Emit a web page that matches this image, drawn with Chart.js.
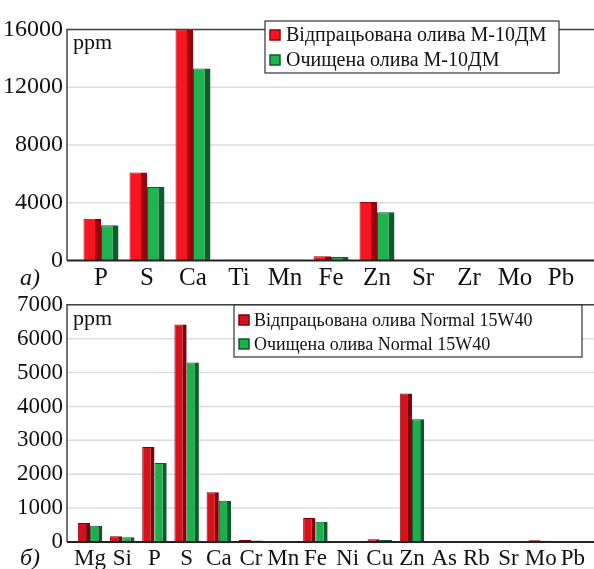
<!DOCTYPE html>
<html>
<head>
<meta charset="utf-8">
<script src="https://cdn.jsdelivr.net/npm/chart.js@4.4.1/dist/chart.umd.min.js"></script>
<style>
    html, body { margin: 0; padding: 0; background: #fff; overflow: hidden; }
    .box { position: absolute; left: 0; width: 594px; height: 290px; }
</style>
</head>
<body>
<div class="box" style="top:0"><canvas id="chartTop"></canvas></div>
<div class="box" style="top:280px"><canvas id="chartBottom"></canvas></div>
<script>
// a) М-10ДМ
const topElements = ["P", "S", "Ca", "Ti", "Mn", "Fe", "Zn", "Sr", "Zr", "Mo", "Pb"];
const topUsed = [2900, 6100, 16000, 30, 20, 300, 4050, 20, 20, 20, 40];
const topCleaned = [2450, 5100, 13300, 25, 15, 250, 3350, 15, 15, 15, 30];
const topTicks = [0, 4000, 8000, 12000, 16000];

// б) Normal 15W40
const bottomElements = ["Mg", "Si", "P", "S", "Ca", "Cr", "Mn", "Fe", "Ni", "Cu", "Zn", "As", "Rb", "Sr", "Mo", "Pb"];
const bottomUsed = [560, 170, 2800, 6420, 1470, 60, 20, 710, 15, 80, 4380, 10, 10, 10, 50, 30];
const bottomCleaned = [480, 140, 2330, 5300, 1220, 45, 15, 600, 10, 60, 3620, 8, 8, 8, 40, 25];
const bottomTicks = [0, 1000, 2000, 3000, 4000, 5000, 6000, 7000];

const serif = "'Liberation Serif', 'DejaVu Serif', serif";

// рамка, сітка, підписи і легенда
const panelPlugin = {
    id: "panel",
    beforeDatasetsDraw(chart, args, o) {
        const { ctx, chartArea } = chart;
        const y = chart.scales.y;
        ctx.save();
        ctx.strokeStyle = "#dcdcdc";
        ctx.lineWidth = 1.5;
        y.ticks.forEach((t) => {
            if (t.value === 0) return;
            const py = y.getPixelForValue(t.value);
            ctx.beginPath();
            ctx.moveTo(o.left, py);
            ctx.lineTo(o.right, py);
            ctx.stroke();
        });
        ctx.strokeStyle = "#444";
        ctx.lineWidth = 1.5;
        ctx.beginPath();
        ctx.moveTo(o.left, chartArea.bottom);
        ctx.lineTo(o.left, chartArea.top);
        ctx.lineTo(o.right, chartArea.top);
        ctx.stroke();
        ctx.restore();
    },
    afterDatasetsDraw(chart, args, o) {
        const { ctx, chartArea } = chart;
        ctx.save();
        ctx.strokeStyle = "#222";
        ctx.lineWidth = 2;
        ctx.beginPath();
        ctx.moveTo(o.left, chartArea.bottom);
        ctx.lineTo(o.right, chartArea.bottom);
        ctx.stroke();

        ctx.fillStyle = "#111";
        ctx.textBaseline = "middle";
        ctx.textAlign = "left";
        ctx.font = "22px " + serif;
        ctx.fillText("ppm", o.left + 6, chartArea.top + 14);

        ctx.font = "italic 24px " + serif;
        ctx.textBaseline = "alphabetic";
        ctx.fillText(o.letter, 20, o.letterY);

        // легенда
        const lg = o.legend;
        ctx.fillStyle = "#fff";
        ctx.fillRect(lg.x, lg.y, lg.w, lg.h);
        ctx.strokeStyle = "#333";
        ctx.lineWidth = 1.2;
        ctx.strokeRect(lg.x, lg.y, lg.w, lg.h);
        ctx.font = lg.size + "px " + serif;
        ctx.textBaseline = "middle";
        chart.data.datasets.forEach((ds, i) => {
            const cy = lg.y + lg.row0 + i * lg.rowGap;
            ctx.fillStyle = ds.backgroundColor;
            ctx.fillRect(lg.x + 5, cy - 5, 10, 10);
            ctx.strokeStyle = ds.borderColor;
            ctx.lineWidth = 1.5;
            ctx.strokeRect(lg.x + 5, cy - 5, 10, 10);
            ctx.fillStyle = "#111";
            ctx.fillText(ds.label, lg.x + lg.textX, cy + 1);
        });
        ctx.restore();
    },
};

const makeChart = (id, cfg) => {
    return new Chart(document.getElementById(id), {
        type: "bar",
        data: {
            labels: cfg.labels,
            datasets: [{
                label: cfg.names[0],
                data: cfg.used,
                backgroundColor: cfg.red,
                borderColor: cfg.redDark,
                borderWidth: { top: 1, left: 1, right: cfg.side, bottom: 0 },
                borderSkipped: false,
            }, {
                label: cfg.names[1],
                data: cfg.cleaned,
                backgroundColor: cfg.green,
                borderColor: cfg.greenDark,
                borderWidth: { top: 1, left: 1, right: cfg.side, bottom: 0 },
                borderSkipped: false,
            }],
        },
        options: {
            responsive: false,
            animation: false,
            devicePixelRatio: 1,
            layout: { padding: { top: 18, right: cfg.padRight, bottom: 0, left: 0 } },
            datasets: { bar: { categoryPercentage: 0.76, barPercentage: 1 } },
            scales: {
                x: {
                    grid: { display: false, drawTicks: false },
                    border: { display: false },
                    ticks: {
                        autoSkip: false,
                        maxRotation: 0,
                        padding: 3,
                        color: "#111",
                        font: { family: serif, size: cfg.xFont },
                    },
                    afterFit: (s) => { s.height = 28; },
                },
                y: {
                    min: 0,
                    max: cfg.ticks[cfg.ticks.length - 1],
                    afterBuildTicks: (s) => { s.ticks = cfg.ticks.map((v) => ({ value: v })); },
                    grid: { display: false, drawTicks: false },
                    border: { display: false },
                    ticks: {
                        padding: cfg.yPad,
                        color: "#111",
                        font: { family: serif, size: cfg.yFont },
                        callback: (v) => String(v),
                    },
                    afterFit: (s) => { s.width = cfg.left; },
                },
            },
            plugins: {
                legend: { display: false },
                tooltip: { enabled: false },
                panel: {
                    left: 67,
                    right: 600,
                    letter: cfg.letter,
                    letterY: 285,
                    legend: cfg.legend,
                },
            },
        },
        plugins: [panelPlugin],
    });
};

const canvasTop = document.getElementById("chartTop");
canvasTop.width = 594; canvasTop.height = 290;
const canvasBottom = document.getElementById("chartBottom");
canvasBottom.width = 594; canvasBottom.height = 290;

makeChart("chartTop", {
    labels: topElements,
    used: topUsed,
    cleaned: topCleaned,
    ticks: topTicks,
    names: ["Відпрацьована олива М-10ДМ", "Очищена олива М-10ДМ"],
    red: "#f81520",
    redDark: "#9a0010",
    green: "#1fb34f",
    greenDark: "#0b5e2c",
    side: 6,
    left: 78,
    padRight: 10,
    yPad: 15,
    xFont: 25,
    yFont: 24,
    letter: "a)",
    legend: { x: 265, y: 21, w: 294, h: 52, size: 20, row0: 14, rowGap: 25, textX: 21 },
});

makeChart("chartBottom", {
    labels: bottomElements,
    used: bottomUsed,
    cleaned: bottomCleaned,
    ticks: bottomTicks,
    names: ["Відпрацьована олива Normal 15W40", "Очищена олива Normal 15W40"],
    red: "#d8101c",
    redDark: "#7c0008",
    green: "#1cb04c",
    greenDark: "#0a5a2a",
    side: 4,
    left: 74,
    padRight: 5,
    yPad: 11,
    xFont: 23,
    yFont: 23,
    letter: "б)",
    legend: { x: 234, y: 25, w: 348, h: 52, size: 18, row0: 15, rowGap: 24, textX: 20 },
});
</script>
</body>
</html>
